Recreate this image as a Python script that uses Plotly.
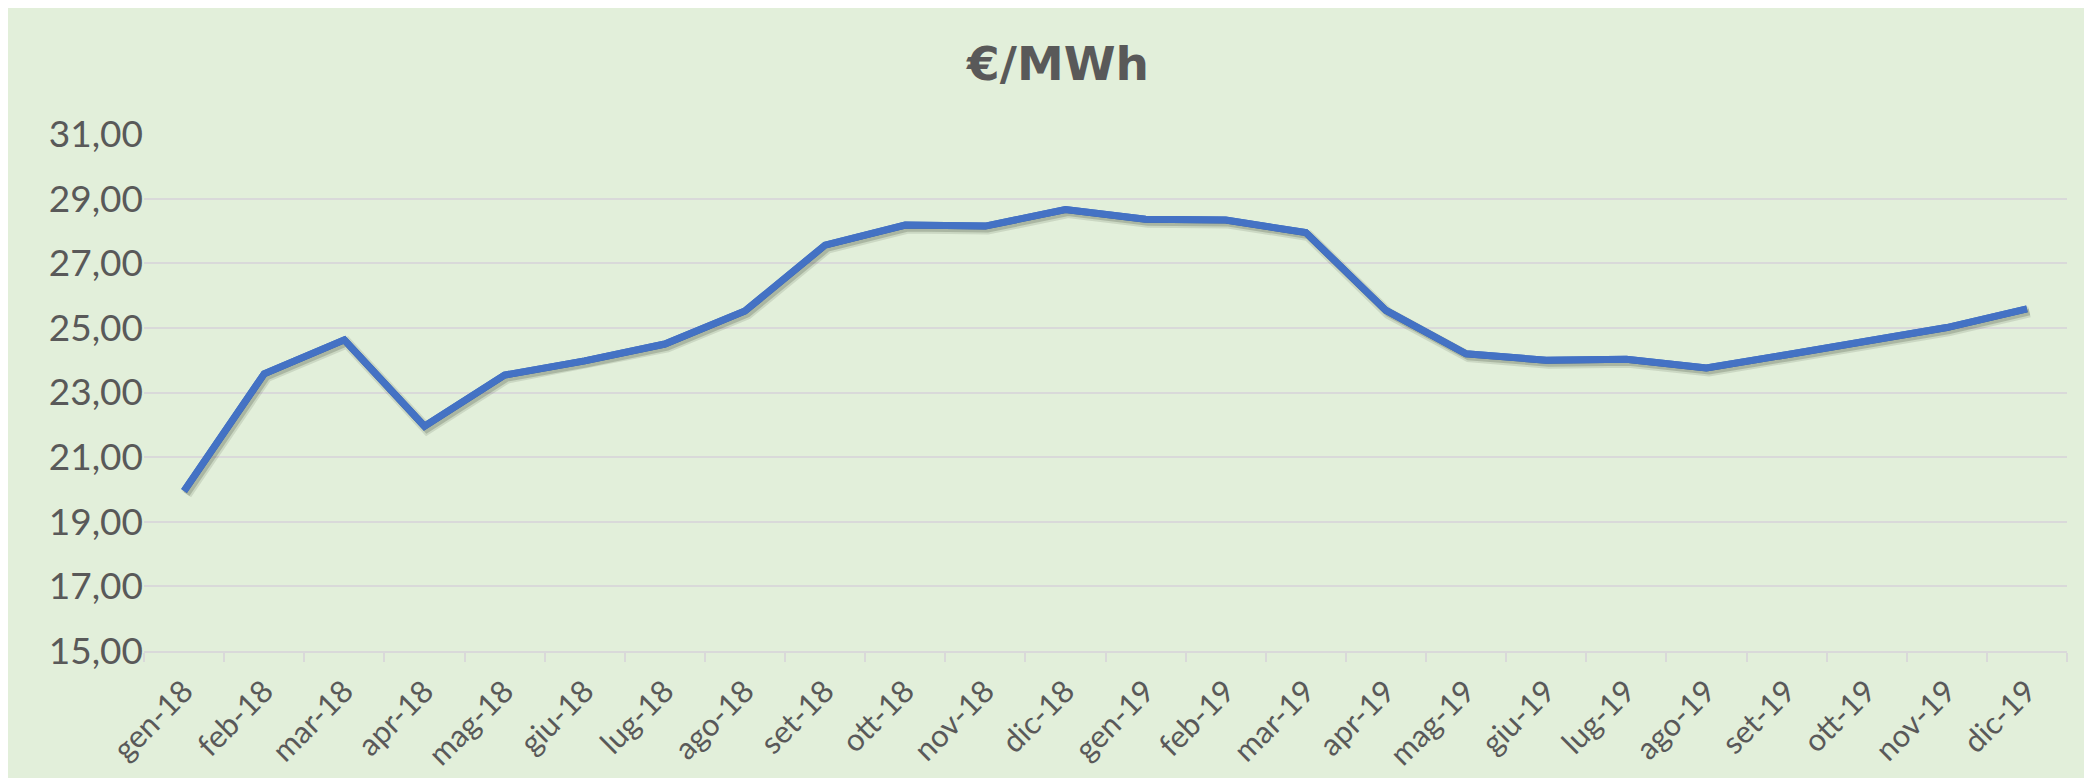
import plotly.graph_objects as go

months = ["gen-18", "feb-18", "mar-18", "apr-18", "mag-18", "giu-18", "lug-18", "ago-18",
          "set-18", "ott-18", "nov-18", "dic-18", "gen-19", "feb-19", "mar-19", "apr-19",
          "mag-19", "giu-19", "lug-19", "ago-19", "set-19", "ott-19", "nov-19", "dic-19"]
prezzo = [19.95, 23.58, 24.63, 21.96, 23.54, 23.98, 24.50, 25.52, 27.56, 28.18, 28.15, 28.66,
          28.36, 28.34, 27.95, 25.54, 24.20, 24.00, 24.03, 23.76, 24.17, 24.59, 25.01, 25.59]
y_ticks = [15, 17, 19, 21, 23, 25, 27, 29, 31]
title_text = "€/MWh"

W, H = 2081, 771
ML, MR, MT, MB = 136, 22, 126, 128
PW = W - ML - MR
PH = H - MT - MB
n = len(months)
yr = [15, 31]

# shadow offsets in pixels
sdx, sdy = 2.5, 3.0
dx = sdx / (PW / n)
dy = sdy / (PH / (yr[1] - yr[0]))

GREEN = "#E2EFDA"
GRID = "#D9D9D9"
TXT = "#595959"
BLUE = "#4472C4"

fig = go.Figure()

# main line on base axes (keeps base axes populated)
fig.add_trace(go.Scatter(x=months, y=prezzo, mode="lines",
                         line=dict(color=BLUE, width=7), showlegend=False))
# shadow on shifted overlay axes
fig.add_trace(go.Scatter(x=months, y=prezzo, mode="lines", xaxis="x2", yaxis="y2",
                         line=dict(color="rgba(40,50,30,0.12)", width=11),
                         hoverinfo="skip", showlegend=False))
fig.add_trace(go.Scatter(x=months, y=prezzo, mode="lines", xaxis="x2", yaxis="y2",
                         line=dict(color="rgba(40,50,30,0.20)", width=7),
                         hoverinfo="skip", showlegend=False))
# main line again on top overlay
fig.add_trace(go.Scatter(x=months, y=prezzo, mode="lines", xaxis="x3", yaxis="y3",
                         line=dict(color=BLUE, width=7), showlegend=False))

fig.update_layout(
    width=W, height=H,
    margin=dict(l=ML, r=MR, t=MT, b=MB, pad=0, autoexpand=False),
    paper_bgcolor=GREEN, plot_bgcolor=GREEN,
    separators=",.",
    showlegend=False,
    title=dict(text="<b>" + title_text + "</b>", x=1050 / W, xref="container", xanchor="center",
               y=1 - 56 / H, yref="container", yanchor="middle",
               font=dict(family="DejaVu Sans", size=47, color=TXT)),
    xaxis=dict(type="category", categoryorder="array", categoryarray=months,
               range=[-0.5, n - 0.5], tickson="boundaries", ticks="outside", ticklen=9,
               tickwidth=1.5, tickcolor=GRID, showline=True, linecolor=GRID, linewidth=1.5,
               showgrid=False, tickangle=-45, automargin=False, ticklabelstandoff=8,
               tickfont=dict(family="Lato", size=31, color=TXT), zeroline=False),
    yaxis=dict(range=yr, tickvals=y_ticks, tickformat=".2f", showgrid=True, gridcolor=GRID,
               gridwidth=1.5, zeroline=False, showline=False, ticks="", automargin=False,
               tickfont=dict(family="Lato", size=37, color=TXT)),
    xaxis2=dict(type="category", categoryorder="array", categoryarray=months,
                range=[-0.5 - dx, n - 0.5 - dx], overlaying="x", visible=False),
    yaxis2=dict(range=[yr[0] + dy, yr[1] + dy], overlaying="y", visible=False),
    xaxis3=dict(type="category", categoryorder="array", categoryarray=months,
                range=[-0.5, n - 0.5], overlaying="x", visible=False),
    yaxis3=dict(range=yr, overlaying="y", visible=False),
)

fig.write_html("out.html")
